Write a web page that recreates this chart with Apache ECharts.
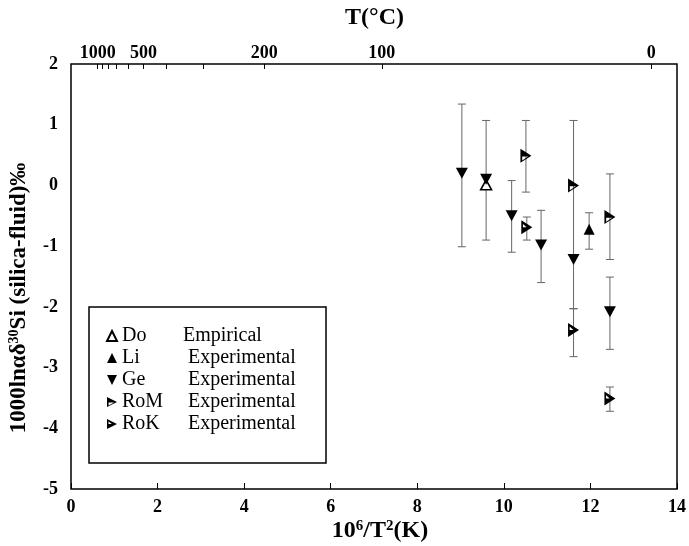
<!DOCTYPE html>
<html><head><meta charset="utf-8">
<script src="https://cdn.jsdelivr.net/npm/echarts@6/dist/echarts.min.js"></script>
<style>html,body{margin:0;padding:0;background:#fff}#c{width:689px;height:546px}</style>
</head><body><div id="c"></div>
<script>
// ---- data ----
const xTicks = [0, 2, 4, 6, 8, 10, 12, 14];
const yTicks = [-5, -4, -3, -2, -1, 0, 1, 2];
const tempTicksC = [1000, 900, 800, 700, 600, 500, 400, 300, 200, 100, 0];
const tempLabelsC = [1000, 500, 200, 100, 0];

const doX = [9.59], doY = [0.01], doErr = [[-0.90, 1.07]];
const liX = [11.97], liY = [-0.72], liErr = [[-1.05, -0.45]];
const geX = [9.03, 9.59, 10.18, 10.86, 11.61, 12.45];
const geY = [0.20, 0.10, -0.50, -0.98, -1.22, -2.08];
const geErr = [[-1.01, 1.34], null, [-1.10, 0.08], [-1.60, -0.41], [-2.03, 1.07], [-2.70, -1.51]];
const romX = [10.51, 11.61, 12.45];
const romY = [0.49, 0.00, -0.52];
const romErr = [[-0.11, 1.07], null, [-1.22, 0.19]];
const rokX = [10.53, 11.61, 12.45];
const rokY = [-0.69, -2.38, -3.51];
const rokErr = [[-0.90, -0.52], [-2.82, -2.03], [-3.72, -3.32]];
const seriesNames = ['Do', 'Li', 'Ge', 'RoM', 'RoK'];
const seriesKinds = ['Empirical', 'Experimental', 'Experimental', 'Experimental', 'Experimental'];

// ---- helpers ----
const toX = c => 1e6 / Math.pow(c + 273.15, 2);
const pts = (xs, ys) => xs.map((x, i) => [x, ys[i]]);
const errs = [];
[[doX, doErr], [liX, liErr], [geX, geErr], [romX, romErr], [rokX, rokErr]].forEach(([xs, es]) => {
  xs.forEach((x, i) => { if (es[i]) errs.push([x, es[i][0], es[i][1]]); });
});
const kindOf = {};
seriesNames.forEach((n, i) => kindOf[n] = seriesKinds[i]);
const tempLabelMap = tempLabelsC.map(c => [toX(c), String(c)]);

const SERIF = "'Liberation Serif','Times New Roman',serif";
const SYM_UP = 'path://M5,0 L10,10 L0,10 Z';
const SYM_DOWN = 'path://M0,0 L10,0 L5,10 Z';
const SYM_ROM = 'path://M0,0 L10,5 L0,10 Z M1.6,5.6 L1.6,8.4 L7,5.6 Z';
const SYM_ROK = 'path://M0,0 L10,5 L0,10 Z M1.5,2.6 L1.5,5 L4.8,5 Z';

const chart = echarts.init(document.getElementById('c'), null, {renderer: 'canvas'});
chart.setOption({
  animation: false,
  backgroundColor: '#fff',
  grid: {left: 71, right: 11, top: 64, bottom: 57, show: true, borderColor: '#000', borderWidth: 1.5, backgroundColor: 'transparent'},
  xAxis: [{
    type: 'value', min: 0, max: 14, interval: 2, position: 'bottom',
    axisLine: {show: false, onZero: false},
    axisTick: {show: true, inside: true, length: 6, lineStyle: {color: '#000', width: 1}},
    axisLabel: {color: '#000', fontFamily: SERIF, fontWeight: 'bold', fontSize: 18, margin: 9,
      customValues: xTicks},
    splitLine: {show: false}
  }, {
    type: 'value', min: 0, max: 14, position: 'top',
    axisLine: {show: false, onZero: false},
    axisTick: {show: true, inside: true, length: 5, lineStyle: {color: '#000', width: 1},
      customValues: tempTicksC.map(toX)},
    axisLabel: {color: '#000', fontFamily: SERIF, fontWeight: 'bold', fontSize: 18, margin: 2,
      customValues: tempLabelsC.map(toX),
      formatter: v => {
        let best = tempLabelMap[0];
        tempLabelMap.forEach(p => { if (Math.abs(p[0] - v) < Math.abs(best[0] - v)) best = p; });
        return best[1];
      }},
    splitLine: {show: false}
  }],
  yAxis: {
    type: 'value', min: -5, max: 2, interval: 1,
    axisLine: {show: false, onZero: false},
    axisTick: {show: false},
    axisLabel: {color: '#000', fontFamily: SERIF, fontWeight: 'bold', fontSize: 18, margin: 13,
      customValues: yTicks},
    splitLine: {show: false}
  },
  legend: {
    data: seriesNames, orient: 'vertical', left: 101, top: 321,
    itemWidth: 10, itemHeight: 10, itemGap: 2, selectedMode: false,
    formatter: n => (kindOf[n] === 'Empirical' ? '{ne|' : '{nx|') + n + '}{d|' + kindOf[n] + '}',
    textStyle: {
      color: '#000', fontFamily: SERIF, fontSize: 20,
      rich: {
        ne: {width: 61, fontFamily: SERIF, fontSize: 20, lineHeight: 20, color: '#000'},
        nx: {width: 66, fontFamily: SERIF, fontSize: 20, lineHeight: 20, color: '#000'},
        d: {fontFamily: SERIF, fontSize: 20, lineHeight: 20, color: '#000'}
      }
    }
  },
  graphic: [
    {type: 'rect', shape: {x: 89, y: 307, width: 237, height: 156}, style: {fill: 'none', stroke: '#000', lineWidth: 1.5}, z: 10},
    {type: 'text', x: 374.5, y: 18, style: {text: 'T(°C)', font: 'bold 24px ' + SERIF, fill: '#000', align: 'center', verticalAlign: 'middle'}},
    {type: 'text', x: 380, y: 531, style: {
      text: '10{s|6}/T{s|2}(K)', font: 'bold 24px ' + SERIF, fill: '#000', align: 'center', verticalAlign: 'middle',
      rich: {s: {fontSize: 15, fontWeight: 'bold', fontFamily: SERIF, verticalAlign: 'top', lineHeight: 24}}}},
    {type: 'text', x: 19, y: 298, rotation: Math.PI / 2, style: {
      text: '1000lnαδ{s|30}Si (silica-fluid)‰', font: 'bold 23px ' + SERIF, fill: '#000', align: 'center', verticalAlign: 'middle',
      rich: {s: {fontSize: 14, fontWeight: 'bold', fontFamily: SERIF, verticalAlign: 'top', lineHeight: 23}}}}
  ],
  series: [
    {type: 'custom', name: 'err', xAxisIndex: 0, yAxisIndex: 0, z: 1,
      encode: {x: 0, y: [1, 2]},
      data: errs,
      renderItem: (params, api) => {
        const x = api.value(0), lo = api.value(1), hi = api.value(2);
        const p1 = api.coord([x, lo]), p2 = api.coord([x, hi]);
        const w = 4, st = {stroke: '#666', lineWidth: 1};
        return {type: 'group', children: [
          {type: 'line', shape: {x1: p1[0], y1: p1[1], x2: p2[0], y2: p2[1]}, style: st},
          {type: 'line', shape: {x1: p1[0] - w, y1: p1[1], x2: p1[0] + w, y2: p1[1]}, style: st},
          {type: 'line', shape: {x1: p2[0] - w, y1: p2[1], x2: p2[0] + w, y2: p2[1]}, style: st}
        ]};
      }},
    {type: 'scatter', name: 'Do', data: pts(doX, doY), symbol: SYM_UP, symbolSize: [11, 10], z: 3,
      itemStyle: {color: '#fff', borderColor: '#000', borderWidth: 1.5, opacity: 1}},
    {type: 'scatter', name: 'Li', data: pts(liX, liY), symbol: SYM_UP, symbolSize: [11, 11], z: 3,
      itemStyle: {color: '#000', opacity: 1}},
    {type: 'scatter', name: 'Ge', data: pts(geX, geY), symbol: SYM_DOWN, symbolSize: [12, 11], z: 4,
      itemStyle: {color: '#000', opacity: 1}},
    {type: 'scatter', name: 'RoM', data: pts(romX, romY), symbol: SYM_ROM, symbolSize: [11, 14], z: 3,
      itemStyle: {color: '#000', opacity: 1}},
    {type: 'scatter', name: 'RoK', data: pts(rokX, rokY), symbol: SYM_ROK, symbolSize: [11, 14], z: 3,
      itemStyle: {color: '#000', opacity: 1}}
  ]
});
</script>
</body></html>
